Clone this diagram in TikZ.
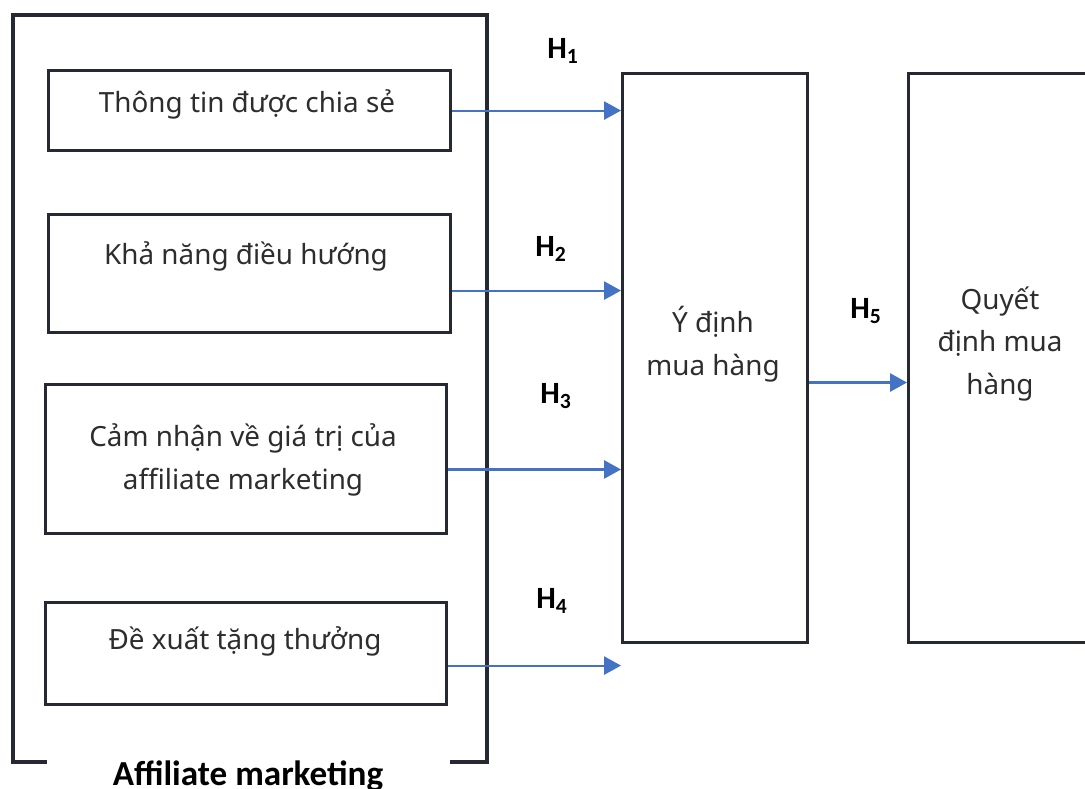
\documentclass[tikz,border=0pt]{standalone}
\usepackage{fontspec}
\setmainfont{Noto Sans}
\newfontfamily\hfont{Carlito}
\usetikzlibrary{arrows.meta,positioning}
\definecolor{frame}{RGB}{38,41,50}
\definecolor{arrowblue}{RGB}{68,114,196}
\definecolor{textgray}{RGB}{45,45,45}

\tikzset{
  box/.style={draw=frame, line width=2.2pt, anchor=north west, inner sep=0pt},
  txt/.style={font=\fontsize{19.8}{30.5}\selectfont, align=center, text=textgray},
  hyp/.style={font=\hfont\bfseries\fontsize{22}{24}\selectfont, text=black},
  link/.style={draw=arrowblue, line width=1.5pt, -{Triangle[length=0.42cm,width=0.45cm]}}
}

\begin{document}
\begin{tikzpicture}[x=0.025cm,y=-0.025cm]
 \useasboundingbox (0,0) rectangle (1085,789);
 \clip (0,0) rectangle (1085,789);
 %the affiliate marketing frame
  \draw[frame, line width=2.2pt] (47,762) -- (13,762) -- (13,15) -- (487,15) -- (487,762) -- (450,762);
  \node[hyp, font=\hfont\bfseries\fontsize{25}{27}\selectfont, anchor=base] (am) at (248,785) {Affiliate marketing};
 %factor boxes
  \node[box, minimum width=10.05cm, minimum height=2cm] (f1) at (47,69) {};
  \node[box, minimum width=10.05cm, minimum height=2.95cm] (f2) at (47,213) {};
  \node[box, minimum width=10.025cm, minimum height=3.725cm] (f3) at (44,383) {};
  \node[box, minimum width=10.025cm, minimum height=2.55cm] (f4) at (44,601) {};
 %intention and decision
  \node[box, minimum width=4.625cm, minimum height=14.225cm] (mid) at (621,72) {};
  \node[box, minimum width=5.1cm, minimum height=14.225cm] (dec) at (907,72) {};
 %texts
  \node[txt] (t1) at (247,104) {Thông tin được chia sẻ};
  \node[txt] (t2) at (246,256) {Khả năng điều hướng};
  \node[txt] (t3) at (243,460) {Cảm nhận về giá trị của\\affiliate marketing};
  \node[txt] (t4) at (245,641) {Đề xuất tặng thưởng};
  \node[txt] (tm) at (713,344) {Ý định\\mua hàng};
  \node[txt] (td) at (1000,344) {Quyết\\định mua\\hàng};
 %hypotheses
  \node[hyp] (h1) at (563,51) {H\textsubscript{1}};
  \node[hyp] (h2) at (551,249) {H\textsubscript{2}};
  \node[hyp] (h3) at (556,396) {H\textsubscript{3}};
  \node[hyp] (h4) at (552,601) {H\textsubscript{4}};
  \node[hyp] (h5) at (866,311) {H\textsubscript{5}};
 %draw arrows
  \draw[link] (f1.east) -- (f1.east -| mid.west);
  \draw[link] ([yshift=-0.425cm]f2.east) -- ([yshift=-0.425cm]f2.east -| mid.west);
  \draw[link] ([yshift=-0.26cm]f3.east) -- ([yshift=-0.26cm]f3.east -| mid.west);
  \draw[link] ([yshift=-0.3cm]f4.east) -- ([yshift=-0.3cm]f4.east -| mid.west);
  \draw[link] ([yshift=-0.61cm]mid.east) -- ([yshift=-0.61cm]mid.east -| dec.west);
\end{tikzpicture}
\end{document}
